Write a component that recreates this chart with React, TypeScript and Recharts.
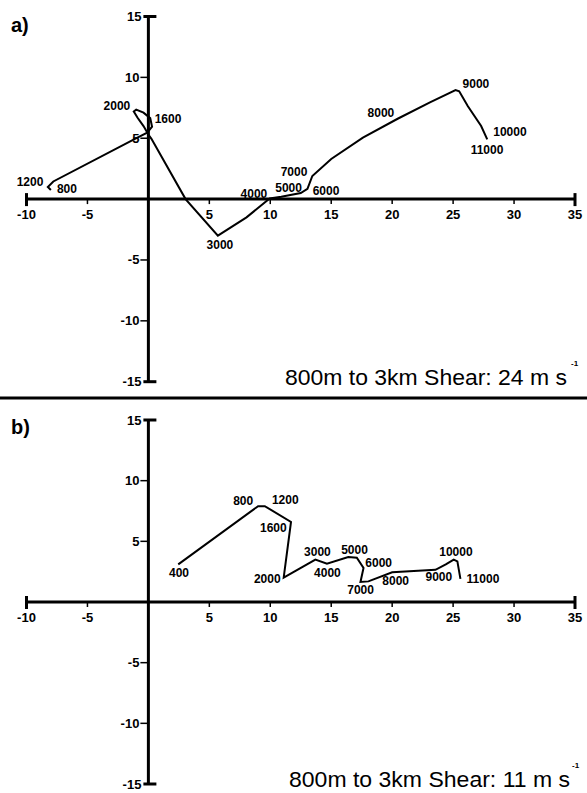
import React from 'react';
import { ScatterChart, Scatter, XAxis, YAxis, ReferenceLine } from 'recharts';

const xTicks = [-10, -5, 5, 10, 15, 20, 25, 30, 35];
const yTicks = [15, 10, 5, -5, -10, -15];

// a) hodograph, u / v in m s-1, ordered by height
const uA = [-8.0, -8.25, -7.8, -1.1, -0.1, 0.3, 0.15, -0.4, -1.0, -1.2, -0.9, -0.4, 0.0, 0.25, 3.05, 5.7, 8.05, 9.95, 10.9, 12.5, 13.05, 13.45, 15.0, 17.6, 20.45, 23.1, 25.2, 25.5, 26.2, 27.3, 27.8];
const vA = [0.75, 1.0, 1.45, 4.95, 5.45, 5.95, 6.65, 7.1, 7.35, 7.2, 6.7, 6.0, 5.3, 4.95, 0.0, -3.0, -1.5, 0.05, 0.2, 0.5, 0.85, 1.9, 3.3, 5.05, 6.6, 7.95, 8.95, 8.85, 7.65, 6.0, 4.9];

const labelsA = ['800', '1200', '1600', '2000', '3000', '4000', '5000', '6000', '7000', '8000', '9000', '10000', '11000'];
const labelUA = [-6.68, -9.71, 1.61, -2.58, 5.87, 8.66, 11.5, 14.57, 11.95, 19.08, 26.87, 29.66, 27.78];
const labelVA = [0.86, 1.44, 6.61, 7.68, -3.74, 0.45, 0.9, 0.7, 2.2, 7.1, 9.49, 5.55, 4.07];

// b) hodograph
const uB = [2.45, 9.0, 9.55, 11.7, 11.1, 13.7, 14.65, 16.4, 17.1, 17.65, 17.4, 18.05, 20.0, 23.55, 24.4, 25.05, 25.35, 25.6];
const vB = [3.1, 7.9, 7.9, 6.6, 2.0, 3.5, 3.15, 3.7, 3.65, 2.8, 1.65, 1.7, 2.45, 2.65, 3.1, 3.5, 3.35, 1.9];

const labelsB = ['400', '800', '1200', '1600', '2000', '3000', '4000', '5000', '6000', '7000', '8000', '9000', '10000', '11000'];
const labelUB = [2.51, 7.78, 11.23, 10.25, 9.75, 13.87, 14.69, 16.91, 18.89, 17.41, 20.29, 23.83, 25.23, 27.45];
const labelVB = [2.35, 8.35, 8.44, 6.13, 1.93, 4.16, 2.43, 4.32, 3.25, 0.95, 1.69, 2.02, 4.16, 1.93];

const FONT = '"Liberation Sans", Arial, Helvetica, sans-serif';

const XTick = (props: any) => {
  const { cx, cy, payload } = props;
  const end = payload.x === -10 || payload.x === 35;
  return (
    <g>
      <line x1={cx} x2={cx} y1={end ? cy - 6 : cy} y2={end ? cy + 7 : cy + 5} stroke="#000" strokeWidth={end ? 3 : 1.5} />
      <text x={cx} y={cy + 15} textAnchor="middle" dominantBaseline="central" fontSize={13} fontWeight="bold" fontFamily={FONT} fill="#000">
        {payload.x}
      </text>
    </g>
  );
};

const YTick = (props: any) => {
  const { cx, cy, payload } = props;
  const end = payload.y === 15 || payload.y === -15;
  return (
    <g>
      <line x1={end ? cx - 5 : cx - 8} x2={end ? cx + 8 : cx} y1={cy} y2={cy} stroke="#000" strokeWidth={end ? 3 : 1.5} />
      <text x={end ? cx - 7 : cx - 9} y={cy} textAnchor="end" dominantBaseline="central" fontSize={13} fontWeight="bold" fontFamily={FONT} fill="#000">
        {payload.y}
      </text>
    </g>
  );
};

const HeightLabel = (props: any) => {
  const { cx, cy, payload } = props;
  return (
    <text x={cx} y={cy} textAnchor="middle" dominantBaseline="central" fontSize={12} fontWeight="bold" fontFamily={FONT} fill="#000">
      {payload.t}
    </text>
  );
};

const NoDot = () => <g />;

interface PanelProps {
  u: number[];
  v: number[];
  labels: string[];
  lu: number[];
  lv: number[];
  top: number;
  height: number;
  margin: { top: number; right: number; bottom: number; left: number };
}

function Panel({ u, v, labels, lu, lv, top, height, margin }: PanelProps) {
  const curve = u.map((x, i) => ({ x, y: v[i] }));
  const marks = labels.map((t, i) => ({ x: lu[i], y: lv[i], t }));
  const xt = xTicks.map((x) => ({ x, y: 0 }));
  const yt = yTicks.map((y) => ({ x: 0, y }));
  return (
    <div style={{ position: 'absolute', left: 0, top }}>
      <ScatterChart width={587} height={height} margin={margin} style={{ overflow: 'visible' }}>
        <XAxis type="number" dataKey="x" domain={[-10, 35]} hide />
        <YAxis type="number" dataKey="y" domain={[-15, 15]} hide />
        <ReferenceLine y={0} stroke="#000" strokeWidth={3} />
        <ReferenceLine x={0} stroke="#000" strokeWidth={3} />
        <Scatter data={xt} shape={XTick} isAnimationActive={false} />
        <Scatter data={yt} shape={YTick} isAnimationActive={false} />
        <Scatter
          data={curve}
          line={{ stroke: '#000', strokeWidth: 2, fill: 'none' }}
          lineJointType="linear"
          shape={NoDot}
          isAnimationActive={false}
        />
        <Scatter data={marks} shape={HeightLabel} isAnimationActive={false} />
      </ScatterChart>
    </div>
  );
}

export default function App() {
  return (
    <div style={{ position: 'absolute', left: 0, top: 0, width: 587, height: 793, background: '#fff' }}>
      <Panel u={uA} v={vA} labels={labelsA} lu={labelUA} lv={labelVA} top={0} height={398}
        margin={{ top: 16.5, right: 12, bottom: 16.3, left: 26.5 }} />
      <Panel u={uB} v={vB} labels={labelsB} lu={labelUB} lv={labelVB} top={398} height={395}
        margin={{ top: 22, right: 12, bottom: 9, left: 26.5 }} />
      <svg width={587} height={793} style={{ position: 'absolute', left: 0, top: 0, pointerEvents: 'none' }}>
        <line x1={0} x2={587} y1={398} y2={398} stroke="#000" strokeWidth={3} />
        <text x={11} y={32} fontSize={20} fontWeight="bold" fontFamily={FONT}>a)</text>
        <text x={11} y={434} fontSize={20} fontWeight="bold" fontFamily={FONT}>b)</text>
        <text x={285} y={385} fontSize={22} fontFamily={FONT} textLength={282} lengthAdjust="spacingAndGlyphs">800m to 3km Shear: 24 m s</text>
        <text x={571} y={366} fontSize={8} fontWeight="bold" fontFamily={FONT}>-1</text>
        <text x={289} y={787} fontSize={22} fontFamily={FONT} textLength={281} lengthAdjust="spacingAndGlyphs">800m to 3km Shear: 11 m s</text>
        <text x={572} y={768} fontSize={8} fontWeight="bold" fontFamily={FONT}>-1</text>
      </svg>
    </div>
  );
}
